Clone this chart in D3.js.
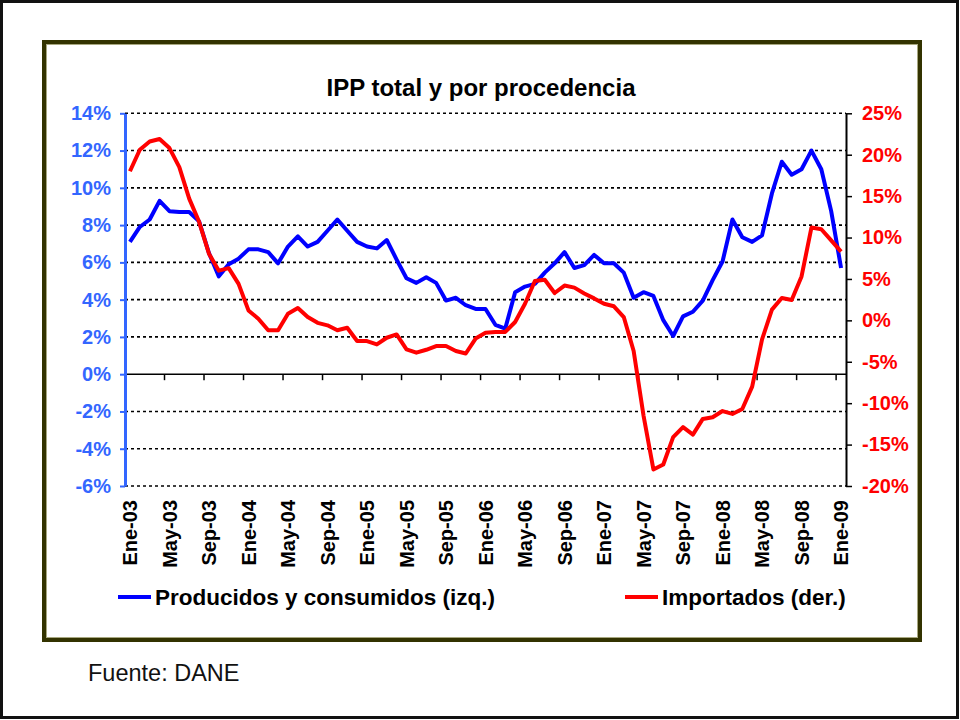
<!DOCTYPE html>
<html>
    <head>
        <meta charset="utf-8">
        <title>IPP total y por procedencia</title>
        <script src="https://d3js.org/d3.v7.min.js"></script>
        <style type="text/css">
            body {
                margin: 0;
                background: #fff;
            }
            #chart {
                font-family: Arial, "Liberation Sans", sans-serif;
            }
            .grid line {
                stroke: #000;
                stroke-width: 1.6;
                stroke-dasharray: 3,3;
            }
        </style>
    </head>
    <body>
        <svg id="chart" width="960" height="720"></svg>
        <script>
            // categorias: meses Ene-03 .. Ene-09
            var mesNames = ["Ene","Feb","Mar","Abr","May","Jun","Jul","Ago","Sep","Oct","Nov","Dic"];
            var years = ["03","04","05","06","07","08","09"];
            var months = [];
            years.forEach(y => mesNames.forEach(m => months.push(m + "-" + y)));
            months = months.slice(0, 73);

            // Producidos y consumidos (izq.), %
            var producidos = [
                7.1, 7.9, 8.3, 9.3, 8.75, 8.7, 8.7, 8.2, 6.5, 5.25, 5.9, 6.2,
                6.7, 6.7, 6.55, 5.95, 6.85, 7.4, 6.85, 7.1, 7.7, 8.3, 7.7, 7.1,
                6.85, 6.75, 7.2, 6.15, 5.15, 4.9, 5.2, 4.9, 3.95, 4.1, 3.7, 3.5,
                3.5, 2.65, 2.45, 4.4, 4.7, 4.85, 5.45, 5.95, 6.55, 5.7, 5.85, 6.4,
                5.95, 5.95, 5.45, 4.1, 4.4, 4.2, 2.9, 2.05, 3.1, 3.35, 3.95, 5.05,
                6.05, 8.3, 7.35, 7.1, 7.45, 9.7, 11.4, 10.7, 11.0, 12.0, 11.0, 8.75,
                5.7
            ];
            // Importados (der.), %
            var importados = [
                18.0, 20.6, 21.6, 21.9, 20.8, 18.5, 14.7, 11.9, 8.05, 6.0, 6.3, 4.4,
                1.2, 0.2, -1.2, -1.2, 0.8, 1.5, 0.4, -0.3, -0.6, -1.2, -0.9, -2.5,
                -2.5, -2.9, -2.1, -1.7, -3.5, -3.9, -3.55, -3.1, -3.1, -3.7, -4.0, -2.2,
                -1.5, -1.4, -1.4, -0.2, 2.0, 4.75, 4.9, 3.3, 4.2, 3.95, 3.25, 2.65,
                2.0, 1.7, 0.4, -3.7, -11.5, -18.0, -17.4, -14.1, -12.9, -13.8, -11.9, -11.7,
                -10.95, -11.3, -10.7, -8.0, -2.3, 1.3, 2.7, 2.45, 5.3, 11.2, 11.0, 9.65,
                8.3
            ];
            var leftTicks = [-6, -4, -2, 0, 2, 4, 6, 8, 10, 12, 14];
            var rightTicks = [-20, -15, -10, -5, 0, 5, 10, 15, 20, 25];
            var seriesNames = ["Producidos y consumidos (izq.)", "Importados (der.)"];

            // area del grafico (ojo: "top" es reservado en window)
            var plotL = 125, plotR = 846, plotT = 113.3, plotB = 486;
            var blueAxis = "#3366ff";

            var svg = d3.select("#chart");

            // marco exterior y marco del grafico
            svg.append("rect")
                .attr("x", 1.5).attr("y", 1.5).attr("width", 956).attr("height", 716)
                .attr("fill", "#fff").attr("stroke", "#111").attr("stroke-width", 3)
            ;
            svg.append("rect")
                .attr("x", 44).attr("y", 42).attr("width", 876).attr("height", 598)
                .attr("fill", "#fff").attr("stroke", "#333300").attr("stroke-width", 4)
            ;
            svg.append("rect")
                .attr("x", 46.5).attr("y", 44.5).attr("width", 871).attr("height", 593)
                .attr("fill", "none").attr("stroke", "#a8a880").attr("stroke-width", 1)
            ;

            var x = d3.scaleBand().domain(months).range([plotL, plotR]);
            var yL = d3.scaleLinear().domain([-6, 14]).range([plotB, plotT]);
            var yR = d3.scaleLinear().domain([-20, 25]).range([plotB, plotT]);

            // lineas de cuadricula punteadas
            svg.append("g")
                .attr("class", "grid")
                .selectAll("line")
                .data(leftTicks.filter(d => d !== 0))
                .enter().append("line")
                    .attr("x1", plotL).attr("x2", plotR)
                    .attr("y1", d => yL(d)).attr("y2", d => yL(d))
            ;

            // eje X en 0%
            var labelCats = months.filter((d, i) => i % 4 === 0);
            var xAxis = svg.append("g")
                .attr("transform", `translate(0,${yL(0)})`)
                .call(d3.axisBottom(x).tickValues(labelCats).tickSize(6).tickFormat(""))
            ;
            xAxis.select(".domain").attr("stroke", "#000").attr("stroke-width", 1.5)
                .attr("d", `M${plotL},0H${plotR}`);
            xAxis.selectAll(".tick line")
                .attr("x1", -x.bandwidth() / 2).attr("x2", -x.bandwidth() / 2)
                .attr("stroke", "#000").attr("stroke-width", 1.5)
            ;

            // etiquetas de meses (verticales)
            svg.append("g")
                .selectAll("text")
                .data(labelCats)
                .enter().append("text")
                    .attr("transform", d => `translate(${x(d) + x.bandwidth() / 2},500) rotate(-90)`)
                    .attr("dy", "0.36em")
                    .attr("text-anchor", "end")
                    .style("font-weight", "bold")
                    .style("font-size", "20px")
                    .attr("fill", "#000")
                    .text(d => d)
            ;

            // eje izquierdo
            var axL = svg.append("g")
                .attr("transform", `translate(${plotL},0)`)
                .call(d3.axisLeft(yL).tickValues(leftTicks).tickFormat(d => d + "%").tickSize(5).tickSizeOuter(0).tickPadding(9))
            ;
            axL.select(".domain").attr("stroke", blueAxis).attr("stroke-width", 3);
            axL.selectAll(".tick line").attr("stroke", blueAxis).attr("stroke-width", 2);
            axL.selectAll(".tick text")
                .attr("fill", blueAxis)
                .style("font-weight", "bold")
                .style("font-size", "20px")
                .style("font-family", "Arial, 'Liberation Sans', sans-serif")
            ;

            // eje derecho
            var axR = svg.append("g")
                .attr("transform", `translate(${plotR},0)`)
                .call(d3.axisRight(yR).tickValues(rightTicks).tickFormat(d => d + "%").tickSize(6).tickSizeOuter(0).tickPadding(10))
            ;
            axR.select(".domain").attr("stroke", "#000").attr("stroke-width", 2);
            axR.selectAll(".tick line").attr("stroke", "#000").attr("stroke-width", 1.5);
            axR.selectAll(".tick text")
                .attr("fill", "#ff0000")
                .style("font-weight", "bold")
                .style("font-size", "20px")
                .style("font-family", "Arial, 'Liberation Sans', sans-serif")
            ;

            // series
            var cx = d => x(d) + x.bandwidth() / 2;
            var lineL = d3.line().x((d, i) => cx(months[i])).y(d => yL(d));
            var lineR = d3.line().x((d, i) => cx(months[i])).y(d => yR(d));

            svg.append("path")
                .datum(producidos)
                .attr("d", lineL)
                .attr("fill", "none")
                .attr("stroke", "#0000ff")
                .attr("stroke-width", 4)
                .attr("stroke-linejoin", "round")
            ;
            svg.append("path")
                .datum(importados)
                .attr("d", lineR)
                .attr("fill", "none")
                .attr("stroke", "#ff0000")
                .attr("stroke-width", 4)
                .attr("stroke-linejoin", "round")
            ;

            // titulo
            svg.append("text")
                .attr("x", 481).attr("y", 96)
                .attr("text-anchor", "middle")
                .style("font-weight", "bold")
                .style("font-size", "24px")
                .text("IPP total y por procedencia")
            ;

            // leyenda
            var legend = [
                {name: seriesNames[0], color: "#0000ff", x: 118},
                {name: seriesNames[1], color: "#ff0000", x: 625}
            ];
            var lg = svg.append("g")
                .selectAll("g")
                .data(legend)
                .enter().append("g")
                    .attr("transform", d => `translate(${d.x},597)`)
            ;
            lg.append("line")
                .attr("x1", 0).attr("x2", 33)
                .attr("stroke", d => d.color)
                .attr("stroke-width", 4)
            ;
            lg.append("text")
                .attr("x", 37)
                .attr("dy", "0.36em")
                .style("font-weight", "bold")
                .style("font-size", "22.5px")
                .text(d => d.name)
            ;

            // fuente
            svg.append("text")
                .attr("x", 88).attr("y", 681)
                .style("font-size", "23.5px")
                .attr("fill", "#111")
                .text("Fuente: DANE")
            ;
        </script>
    </body>
</html>
